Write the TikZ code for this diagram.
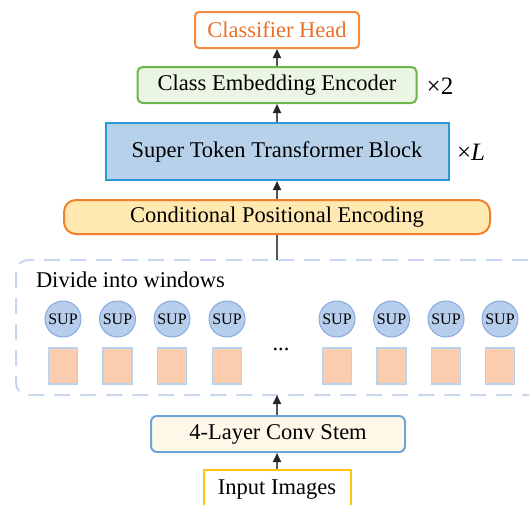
\documentclass[tikz,border=0pt]{standalone}
\usepackage{fontspec}
\setmainfont{Liberation Serif}
\usetikzlibrary{arrows.meta}
\definecolor{headc}{HTML}{F5893D}
\definecolor{headt}{HTML}{E8702A}
\definecolor{greenb}{HTML}{6DB64A}
\definecolor{greenf}{HTML}{EBF5E4}
\definecolor{blueb}{HTML}{2A9BD8}
\definecolor{bluef}{HTML}{B7D1EB}
\definecolor{cpeb}{HTML}{F47F2A}
\definecolor{cpef}{HTML}{FFE9B0}
\definecolor{dashc}{HTML}{C9D7EE}
\definecolor{supf}{HTML}{B6CDEB}
\definecolor{supb}{HTML}{86AAE0}
\definecolor{sqf}{HTML}{FBCCAD}
\definecolor{sqb}{HTML}{B9D3EE}
\definecolor{stemb}{HTML}{6FA4DA}
\definecolor{stemf}{HTML}{FFF8E9}
\definecolor{inb}{HTML}{FFC20E}
\definecolor{arrc}{HTML}{555555}
\tikzset{
  lbl/.style={font=\fontsize{22.5}{26}\selectfont, inner sep=0pt, line width=2pt},
  big/.style={font=\fontsize{25}{28}\selectfont, inner sep=0pt},
  arr/.style={draw=arrc, line width=2pt, -{Triangle[length=9pt,width=8pt,color=black!85]}},
  supc/.style={circle, draw=supb, fill=supf, line width=1pt, minimum size=36pt, inner sep=0pt, font=\fontsize{16}{18}\selectfont},
  sq/.style={rectangle, draw=sqb, fill=sqf, line width=1.5pt, minimum width=29pt, minimum height=36pt, inner sep=0pt},
}
\begin{document}
\begin{tikzpicture}[x=1pt,y=-1pt]
\useasboundingbox (0,0) rectangle (529,504);
\clip (0,0) rectangle (529,504);
% dashed window frame (extends past the right edge)
\draw[draw=dashc, line width=2pt, dash pattern=on 16pt off 10pt, rounded corners=12pt] (16,260) rectangle (580,395);
\coordinate (wintop) at (277,260);
\coordinate (winbot) at (277,395);
% nodes
\node[lbl, draw=headc, text=headt, rounded corners=4pt, minimum width=164pt, minimum height=36pt] (head) at (277,30) {Classifier Head};
\node[lbl, draw=greenb, fill=greenf, rounded corners=5pt, minimum width=279pt, minimum height=36pt] (cee) at (277,85) {Class Embedding Encoder};
\node[big] (x2) at (440,86) {×2};
\node[lbl, draw=blueb, fill=bluef, minimum width=343pt, minimum height=57pt] (stb) at (277,151.5) {Super Token Transformer Block};
\node[big] (xl) at (471,152) {×\textit{L}};
\node[lbl, draw=cpeb, fill=cpef, rounded corners=12pt, minimum width=426pt, minimum height=34pt] (cpe) at (277,217) {Conditional Positional Encoding};
\node[lbl, anchor=base west] (div) at (35,287) {Divide into windows};
\foreach \i/\x in {1/63,2/117.5,3/172,4/227,5/337,6/391.5,7/446,8/500}{
  \node[supc] (sup\i) at (\x,319) {SUP};
  \node[sq] (sq\i) at (\x,366) {};
}
\node[lbl] (dots) at (281,349) {...};
\node[lbl, draw=stemb, fill=stemf, rounded corners=6pt, minimum width=254pt, minimum height=36pt] (stem) at (278,434) {4-Layer Conv Stem};
\node[lbl, draw=inb, minimum width=147pt, minimum height=40pt] (inp) at (277,490) {Input Images};
% connectors
\draw[arr] (inp.north) -- (inp.north |- stem.south);
\draw[arr] (stem.north -| inp.north) -- (winbot);
\draw[draw=arrc, line width=2pt] (cpe.south -| inp.north) -- (wintop);
\draw[arr] (cpe.north -| inp.north) -- (inp.north |- stb.south);
\draw[arr] (stb.north -| inp.north) -- (inp.north |- cee.south);
\draw[arr] (cee.north -| inp.north) -- (inp.north |- head.south);
\end{tikzpicture}
\end{document}
